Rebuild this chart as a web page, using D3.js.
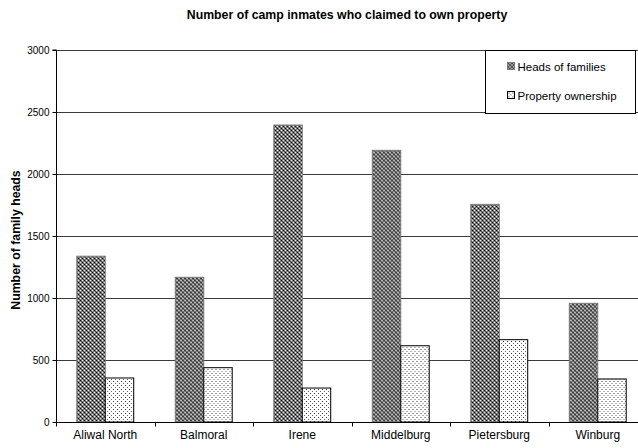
<!DOCTYPE html>
<html lang="en">
<head>
  <meta charset="UTF-8">
  <title>Number of camp inmates who claimed to own property</title>
  <style>
    body {
      margin: 0;
      background: white;
      overflow: hidden;
    }

    text {
      font-family: "Liberation Sans", Arial, sans-serif;
      fill: black;
    }

    .grid line {
      stroke: #3a3a3a;
      stroke-width: 1px;
    }

    .title {
      font-weight: bold;
      font-size: 12.3px;
    }

    .y-label {
      font-weight: bold;
      font-size: 12.3px;
    }
  </style>
</head>
<body>
  <script src="https://d3js.org/d3.v7.min.js"></script>
  <script>
    const width = 638;
    const height = 448;

    const camps = ["Aliwal North", "Balmoral", "Irene", "Middelburg", "Pietersburg", "Winburg"];
    const series = ["Heads of families", "Property ownership"];
    const headsOfFamilies = [1337, 1167, 2395, 2191, 1755, 957];
    const propertyOwnership = [355, 438, 274, 615, 664, 347];
    const yTicks = [0, 500, 1000, 1500, 2000, 2500, 3000];

    const margin = { top: 50, left: 56, bottom: 26 };
    const plotBottom = height - margin.bottom;

    const svg = d3.select("body").append("svg")
      .attr("width", width)
      .attr("height", height);

    // fill patterns
    const defs = svg.append("defs");

    const dark = defs.append("pattern")
      .attr("id", "dark")
      .attr("patternUnits", "userSpaceOnUse")
      .attr("width", 4)
      .attr("height", 4);
    dark.append("rect").attr("width", 4).attr("height", 4).attr("fill", "#7e7e7e");
    dark.append("rect").attr("x", 0).attr("y", 0).attr("width", 1).attr("height", 1).attr("fill", "#000");
    dark.append("rect").attr("x", 2).attr("y", 0).attr("width", 1).attr("height", 1).attr("fill", "#f0f0f0");
    dark.append("rect").attr("x", 0).attr("y", 2).attr("width", 1).attr("height", 1).attr("fill", "#f0f0f0");
    dark.append("rect").attr("x", 2).attr("y", 2).attr("width", 1).attr("height", 1).attr("fill", "#000");
    dark.append("rect").attr("x", 1).attr("y", 1).attr("width", 1).attr("height", 1).attr("fill", "#555");
    dark.append("rect").attr("x", 3).attr("y", 3).attr("width", 1).attr("height", 1).attr("fill", "#555");

    const light = defs.append("pattern")
      .attr("id", "light")
      .attr("patternUnits", "userSpaceOnUse")
      .attr("width", 4)
      .attr("height", 4);
    light.append("rect").attr("width", 4).attr("height", 4).attr("fill", "white");
    light.append("rect").attr("x", 1).attr("y", 1).attr("width", 1).attr("height", 1).attr("fill", "#333");
    light.append("rect").attr("x", 3).attr("y", 3).attr("width", 1).attr("height", 1).attr("fill", "#666");

    const x0 = d3.scaleBand()
      .domain(camps)
      .range([margin.left, margin.left + 6 * 98.5])
      .padding(0);

    const x1 = d3.scaleBand()
      .domain(series)
      .range([0, x0.bandwidth()])
      .paddingInner(0)
      .paddingOuter(0.73);

    const y = d3.scaleLinear()
      .domain([0, 3000])
      .range([plotBottom, margin.top]);

    // gridlines
    svg.append("g")
      .attr("class", "grid")
      .selectAll("line")
      .data(yTicks.filter(d => d > 0))
      .enter()
      .append("line")
      .attr("x1", margin.left)
      .attr("x2", width)
      .attr("y1", d => Math.round(y(d)) + 0.5)
      .attr("y2", d => Math.round(y(d)) + 0.5);

    // bars
    const groups = svg.append("g")
      .selectAll("g")
      .data(camps)
      .enter()
      .append("g")
      .attr("transform", d => "translate(" + x0(d) + ",0)");

    groups.append("rect")
      .attr("x", x1(series[0]))
      .attr("y", (d, i) => y(headsOfFamilies[i]))
      .attr("width", x1.bandwidth())
      .attr("height", (d, i) => plotBottom - y(headsOfFamilies[i]))
      .attr("fill", "url(#dark)")
      .attr("stroke", "#7a7a7a")
      .attr("stroke-width", 1);

    groups.append("rect")
      .attr("x", x1(series[1]))
      .attr("y", (d, i) => y(propertyOwnership[i]))
      .attr("width", x1.bandwidth())
      .attr("height", (d, i) => plotBottom - y(propertyOwnership[i]))
      .attr("fill", "url(#light)")
      .attr("stroke", "black")
      .attr("stroke-width", 1);

    // y axis
    const yAxis = svg.append("g")
      .attr("transform", "translate(" + (margin.left + 0.5) + ",0)")
      .call(d3.axisLeft(y).tickValues(yTicks).tickFormat(d3.format("d")).tickSize(4).tickPadding(3));
    yAxis.select(".domain").attr("stroke", "black").attr("d", "M-4," + margin.top + "H0V" + plotBottom);
    yAxis.selectAll("text")
      .attr("font-size", "10px");

    // x axis
    const xAxis = svg.append("g")
      .attr("transform", "translate(0," + (Math.round(plotBottom) + 0.5) + ")");
    xAxis.append("line")
      .attr("x1", margin.left)
      .attr("x2", width)
      .attr("stroke", "black");
    xAxis.selectAll(".tick")
      .data(camps)
      .enter()
      .append("line")
      .attr("x1", d => Math.round(x0(d)) + 0.5)
      .attr("x2", d => Math.round(x0(d)) + 0.5)
      .attr("y1", 0)
      .attr("y2", 4)
      .attr("stroke", "black");
    xAxis.selectAll("text")
      .data(camps)
      .enter()
      .append("text")
      .attr("x", d => x0(d) + x0.bandwidth() / 2)
      .attr("y", 16)
      .attr("text-anchor", "middle")
      .attr("font-size", "12px")
      .text(d => d);

    // title and axis label
    svg.append("text")
      .attr("class", "title")
      .attr("x", 347)
      .attr("y", 19)
      .attr("text-anchor", "middle")
      .text("Number of camp inmates who claimed to own property");

    svg.append("text")
      .attr("class", "y-label")
      .attr("transform", "translate(20,240) rotate(-90)")
      .attr("text-anchor", "middle")
      .text("Number of family heads");

    // legend
    const legend = svg.append("g")
      .attr("transform", "translate(485.5,50.5)");
    legend.append("rect")
      .attr("width", 150)
      .attr("height", 63)
      .attr("fill", "white")
      .attr("stroke", "black");

    const legendFills = ["url(#dark)", "url(#light)"];
    const legendItems = legend.selectAll(".item")
      .data(series)
      .enter()
      .append("g")
      .attr("class", "item")
      .attr("transform", (d, i) => "translate(22," + (12 + i * 29) + ")");
    legendItems.append("rect")
      .attr("width", 7)
      .attr("height", 7)
      .attr("fill", (d, i) => legendFills[i])
      .attr("stroke", (d, i) => i === 0 ? "#7a7a7a" : "black");
    legendItems.append("text")
      .attr("x", 10)
      .attr("y", 4)
      .attr("dy", "0.35em")
      .attr("font-size", "11.5px")
      .text(d => d);
  </script>
</body>
</html>
